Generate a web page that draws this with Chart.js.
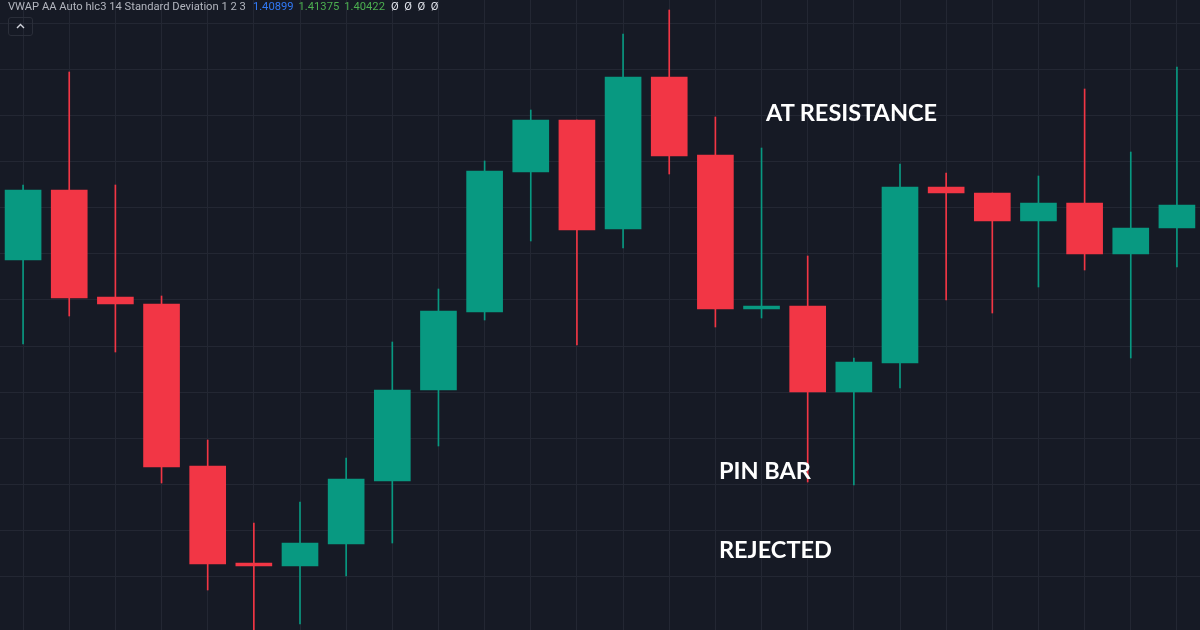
<!DOCTYPE html>
<html>
<head>
<meta charset="utf-8">
<title>Pin bar at resistance</title>
<script src="https://cdn.jsdelivr.net/npm/chart.js@4.4.1/dist/chart.umd.min.js"></script>
<style>
  html, body { margin: 0; padding: 0; background: #161a25; }
  #wrap { position: relative; width: 1200px; height: 630px; overflow: hidden; }
  #legend {
    position: absolute; left: 8px; top: 0px;
    font: 11.2px Roboto, "Noto Sans", sans-serif; color: #b2b5be; white-space: nowrap;
  }
  #legend .blue { color: #3179f5; margin-left: 7px; }
  #legend .green { color: #4caf50; margin-left: 5px; }
  #legend .na { color: #e0e3eb; margin-left: 6px; }
  #toggle {
    position: absolute; left: 8px; top: 17px; width: 25px; height: 19px;
    border: 1px solid #2a2e39; border-radius: 3px; box-sizing: border-box;
  }
  #toggle svg { position: absolute; left: 7px; top: 5px; }
  .note {
    position: absolute; font: bold 23.5px Lato, "Open Sans", sans-serif; color: #ffffff;
    white-space: nowrap; line-height: 1;
  }
</style>
</head>
<body>
<div id="wrap">
  <canvas id="myChart" width="1200" height="630"></canvas>
  <div id="legend">VWAP AA Auto hlc3 14 Standard Deviation 1 2 3<span class="blue">1.40899</span><span class="green">1.41375</span><span class="green">1.40422</span><span class="na">Ø&nbsp;&nbsp;Ø&nbsp;&nbsp;Ø&nbsp;&nbsp;Ø</span></div>
  <div id="toggle"><svg width="9" height="6" viewBox="0 0 9 6"><polyline points="1,5 4.5,1.5 8,5" fill="none" stroke="#d1d4dc" stroke-width="1.4"/></svg></div>
  <div class="note" style="left:766px; top:101px;">AT RESISTANCE</div>
  <div class="note" style="left:719px; top:459px;">PIN BAR</div>
  <div class="note" style="left:719px; top:538px;">REJECTED</div>
</div>
<script>
'use strict';
// candle values in price points
let candles = ['1','2','3','4','5','6','7','8','9','10','11','12','13','14','15','16','17','18','19','20','21','22','23','24','25','26'];
let opens  = [363, 433, 326, 319, 157, 60, 57, 79, 142, 233, 311, 451, 503, 394, 546, 468, 314, 317, 231, 260, 436, 430, 402, 420, 369, 395];
let highs  = [438, 551, 438, 327, 183, 100, 121, 165, 281, 334, 462, 513, 503, 589, 613, 506, 475, 367, 265, 459, 450, 430, 447, 534, 471, 556];
let lows   = [279, 307, 271, 140, 33, -9, -1, 47, 80, 177, 303, 382, 278, 375, 449, 296, 305, 141, 138, 235, 323, 310, 336, 353, 265, 356];
let closes = [433, 325, 319, 156, 59, 57, 80, 144, 233, 312, 452, 503, 393, 546, 467, 314, 317, 231, 261, 436, 430, 402, 420, 369, 395, 418];

let upColor = '#089981';
let downColor = '#f23645';
let gridColor = '#232733';
let gridStep = 46.15;

let colors = [];
let wicks = [];
let bodies = [];
for (let i = 0; i < candles.length; i++) {
    colors.push(closes[i] >= opens[i] ? upColor : downColor);
    wicks.push([lows[i], highs[i]]);
    bodies.push([opens[i], closes[i]]);
}

let ctx = document.getElementById('myChart').getContext('2d');
let myChart = new Chart(ctx, {
    type: 'bar',
    data: {
        labels: candles,
        datasets: [{
            label: 'wick',
            data: wicks,
            backgroundColor: colors,
            barThickness: 1,
            grouped: false,
            order: 2
        }, {
            label: 'body',
            data: bodies,
            backgroundColor: colors,
            barThickness: 36,
            grouped: false,
            order: 1
        }]
    },
    options: {
        responsive: false,
        animation: false,
        layout: { padding: 0 },
        plugins: {
            legend: { display: false },
            tooltip: { enabled: false }
        },
        scales: {
            x: {
                offset: true,
                ticks: { display: false },
                border: { display: false },
                grid: { color: gridColor, offset: false, drawTicks: false, tickLength: 0 }
            },
            y: {
                min: -7,
                max: 623,
                ticks: { display: false, stepSize: gridStep },
                border: { display: false },
                grid: { color: gridColor, drawTicks: false, tickLength: 0 },
                afterBuildTicks: function (scale) {
                    scale.ticks = scale.ticks.filter(t => t.value >= 0 && t.value <= 601);
                }
            }
        }
    }
});
</script>
</body>
</html>
